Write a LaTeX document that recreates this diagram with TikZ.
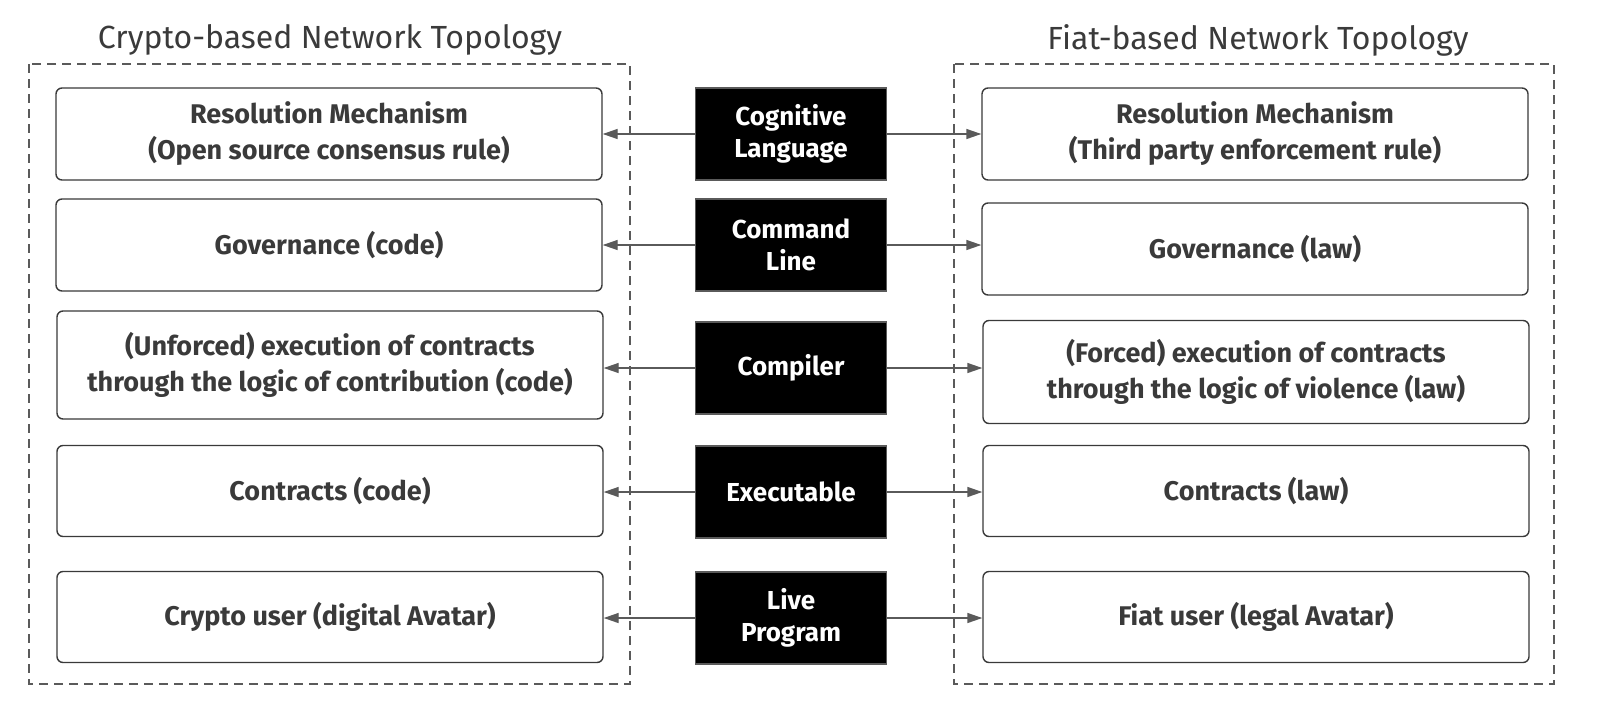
\documentclass[tikz,border=0pt]{standalone}
\usepackage{fontspec}
\setmainfont{Fira Sans}
\usepackage{tikz}
\usetikzlibrary{calc, arrows.meta}
\usepackage{xcolor}
\definecolor{txtgray}{HTML}{3A3A3A}
\definecolor{linegray}{HTML}{5A5A5A}

\begin{document}
\begin{tikzpicture}[x=1pt, y=-1pt,
    layerbox/.style={draw=txtgray, line width=1.4pt, rounded corners=6pt, fill=white,
        minimum width=546pt, align=center, text=txtgray,
        font=\fontsize{27}{36}\selectfont\bfseries},
    langbox/.style={draw=linegray, line width=1.4pt, fill=black, text=white,
        minimum width=191pt, minimum height=92pt, align=center,
        font=\fontsize{26}{32}\selectfont\bfseries},
    link/.style={draw=linegray, line width=1.4pt, -{Triangle[length=15pt, width=10pt]}},
    frame/.style={draw=linegray, line width=1.3pt, dash pattern=on 9pt off 6pt},
    title/.style={text=txtgray, font=\fontsize{32}{36}\selectfont}]

    % 1. Fix the page to the size of the reference
    \useasboundingbox[fill=white] (0,0) rectangle (1600,723);

    % 2. The two dashed frames and their titles
    \draw[frame] (29,64) rectangle (630,684);
    \draw[frame] (954,64) rectangle (1554,684);
    \node[title] (crypto) at (330,40) {Crypto-based Network Topology};
    \node[title] (fiat) at (1258,40) {Fiat-based Network Topology};

    % 3. Left column (crypto)
    \node[layerbox, minimum height=92pt] (L1) at (329,134) {Resolution Mechanism\\(Open source consensus rule)};
    \node[layerbox, minimum height=92pt] (L2) at (329,245) {Governance (code)};
    \node[layerbox, minimum height=108pt] (L3) at (330,365) {(Unforced) execution of contracts\\through the logic of contribution (code)};
    \node[layerbox, minimum height=91pt] (L4) at (330,491) {Contracts (code)};
    \node[layerbox, minimum height=91pt] (L5) at (330,617) {Crypto user (digital Avatar)};

    % 4. Right column (fiat)
    \node[layerbox, minimum height=92pt] (R1) at (1255,134) {Resolution Mechanism\\(Third party enforcement rule)};
    \node[layerbox, minimum height=92pt] (R2) at (1255,249) {Governance (law)};
    \node[layerbox, minimum height=103pt] (R3) at (1256,372) {(Forced) execution of contracts\\through the logic of violence (law)};
    \node[layerbox, minimum height=91pt] (R4) at (1256,491) {Contracts (law)};
    \node[layerbox, minimum height=91pt] (R5) at (1256,617) {Fiat user (legal Avatar)};

    % 5. Middle column (programming analogy)
    \node[langbox] (M1) at (791,134) {Cognitive\\Language};
    \node[langbox] (M2) at (791,245) {Command\\Line};
    \node[langbox] (M3) at (791,368) {Compiler};
    \node[langbox] (M4) at (791,492) {Executable};
    \node[langbox] (M5) at (791,618) {Live\\Program};

    % 6. Arrows from the middle boxes out to both sides
    \foreach \i in {1,...,5} {
        \draw[link] (M\i.west) -- (M\i.west -| L\i.east);
        \draw[link] (M\i.east) -- (M\i.east -| R\i.west);
    }
\end{tikzpicture}
\end{document}
